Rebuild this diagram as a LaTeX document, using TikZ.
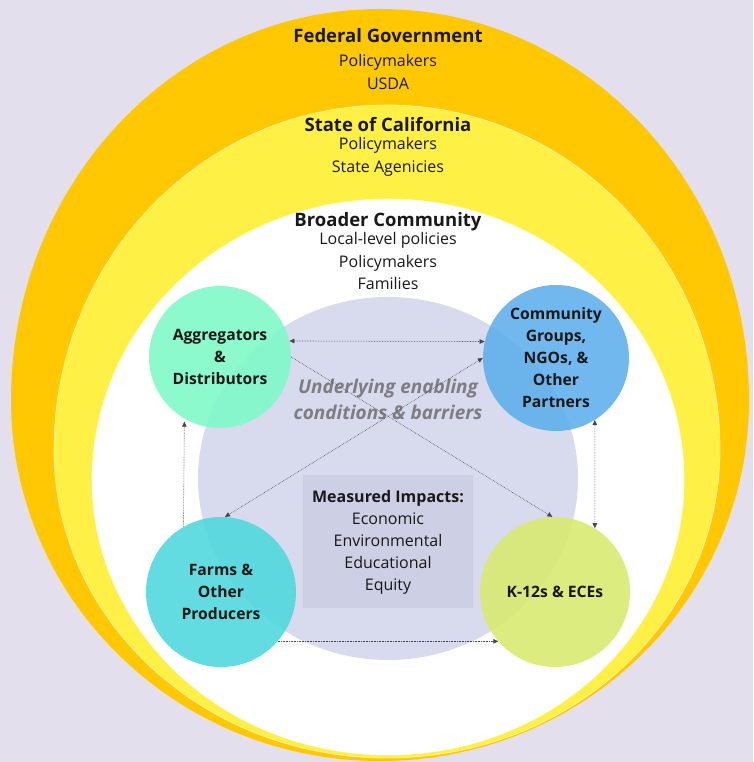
\documentclass[tikz,border=0pt]{standalone}
\usepackage{fontspec}
\setmainfont{Open Sans}
\usetikzlibrary{arrows.meta}
\definecolor{bg}{RGB}{227,223,236}
\definecolor{fed}{RGB}{255,200,0}
\definecolor{state}{RGB}{255,240,70}
\definecolor{core}{RGB}{216,218,238}
\definecolor{mbox}{RGB}{205,207,228}
\definecolor{aggc}{RGB}{126,250,200}
\definecolor{comc}{RGB}{93,175,235}
\definecolor{farmc}{RGB}{77,216,221}
\definecolor{kidc}{RGB}{216,234,110}
\definecolor{ink}{RGB}{25,25,25}
\definecolor{undertext}{RGB}{125,125,130}
\definecolor{arrowc}{RGB}{70,70,75}
\begin{document}
\begin{tikzpicture}[x=1pt,y=1pt,
  actor/.style={circle, inner sep=0pt, fill opacity=0.88, text opacity=1, text=ink, align=center, font=\fontsize{15.7}{22}\selectfont\bfseries},
  ttl/.style={anchor=base, text=ink, inner sep=0pt, font=\fontsize{18.5}{22}\selectfont\bfseries},
  body/.style={anchor=base, text=ink, inner sep=0pt, font=\fontsize{16}{20}\selectfont},
  under/.style={anchor=base, text=undertext, inner sep=0pt, font=\fontsize{19}{22}\selectfont\bfseries\itshape},
  mhead/.style={anchor=base, text=ink, inner sep=0pt, font=\fontsize{16}{20}\selectfont\bfseries},
  link/.style={draw=arrowc, line width=0.6pt, densely dotted, >={Triangle[length=5pt,width=4.5pt]}},
  rim/.style={draw=white, draw opacity=0.55, line width=0.8pt}
]
\fill[bg] (0,0) rectangle (753,762);
\useasboundingbox (0,0) rectangle (753,762);
% nested egg-shaped regions
\fill[fed] (11,362) arc[start angle=180,end angle=0,x radius=369,y radius=391]
  arc[start angle=0,end angle=-180,x radius=369,y radius=361] -- cycle;
\path[fill=state, rim] (54,312) arc[start angle=180,end angle=0,x radius=333,y radius=345]
  arc[start angle=0,end angle=-180,x radius=333,y radius=308] -- cycle;
\path[fill=white, rim] (92,282) arc[start angle=180,end angle=0,x radius=296,y radius=281]
  arc[start angle=0,end angle=-180,x radius=296,y radius=275] -- cycle;
% core
\fill[core] (388,283.5) ellipse[x radius=190, y radius=181.5];
\fill[mbox] (303,154) rectangle (473,287);

% titles
\node[ttl] (fedt) at (388,719.3) {Federal Government};
\node[body] (fed1) at (388,695.3) {Policymakers};
\node[body] (fed2) at (388,672) {USDA};
\node[ttl] (statet) at (388,630.3) {State of California};
\node[body] (state1) at (388,612) {Policymakers};
\node[body] (state2) at (388,589.3) {State Agenicies};
\node[ttl] (bct) at (388,535.3) {Broader Community};
\node[body] (bc1) at (388,517) {Local-level policies};
\node[body] (bc2) at (388,494.3) {Policymakers};
\node[body] (bc3) at (388,472) {Families};
\node[under] (un1) at (388,368.7) {Underlying enabling};
\node[under] (un2) at (388,342.7) {conditions \& barriers};
\node[mhead] (mi0) at (388,259.3) {Measured Impacts:};
\node[body] (mi1) at (388,237) {Economic};
\node[body] (mi2) at (388,215.3) {Environmental};
\node[body] (mi3) at (388,193) {Educational};
\node[body] (mi4) at (388,171.3) {Equity};

% actors
\node[actor, fill=aggc, minimum size=142pt] (agg) at (220,405) {Aggregators\\\&\\Distributors};
\node[actor, fill=comc, minimum size=146pt] (com) at (556,404) {Community\\Groups,\\NGOs, \&\\Other\\Partners};
\node[actor, fill=farmc, minimum size=150pt] (farm) at (221,170) {Farms \&\\Other\\Producers};
\node[actor, fill=kidc, minimum size=150pt] (kid) at (555,170) {K-12s \& ECEs};

% connectors
\draw[link,<->] (agg.13) -- (com.167);
\draw[link,->] (agg.0) -- (kid.92);
\draw[link,<->] (com.180) -- (farm.87);
\draw[link,->,shorten >=3pt] (farm.120) -- (agg.240);
\draw[link,<->] (com.302) -- (kid.58);
\draw[link,->] (farm.-41) -- (kid.221);
\end{tikzpicture}
\end{document}
